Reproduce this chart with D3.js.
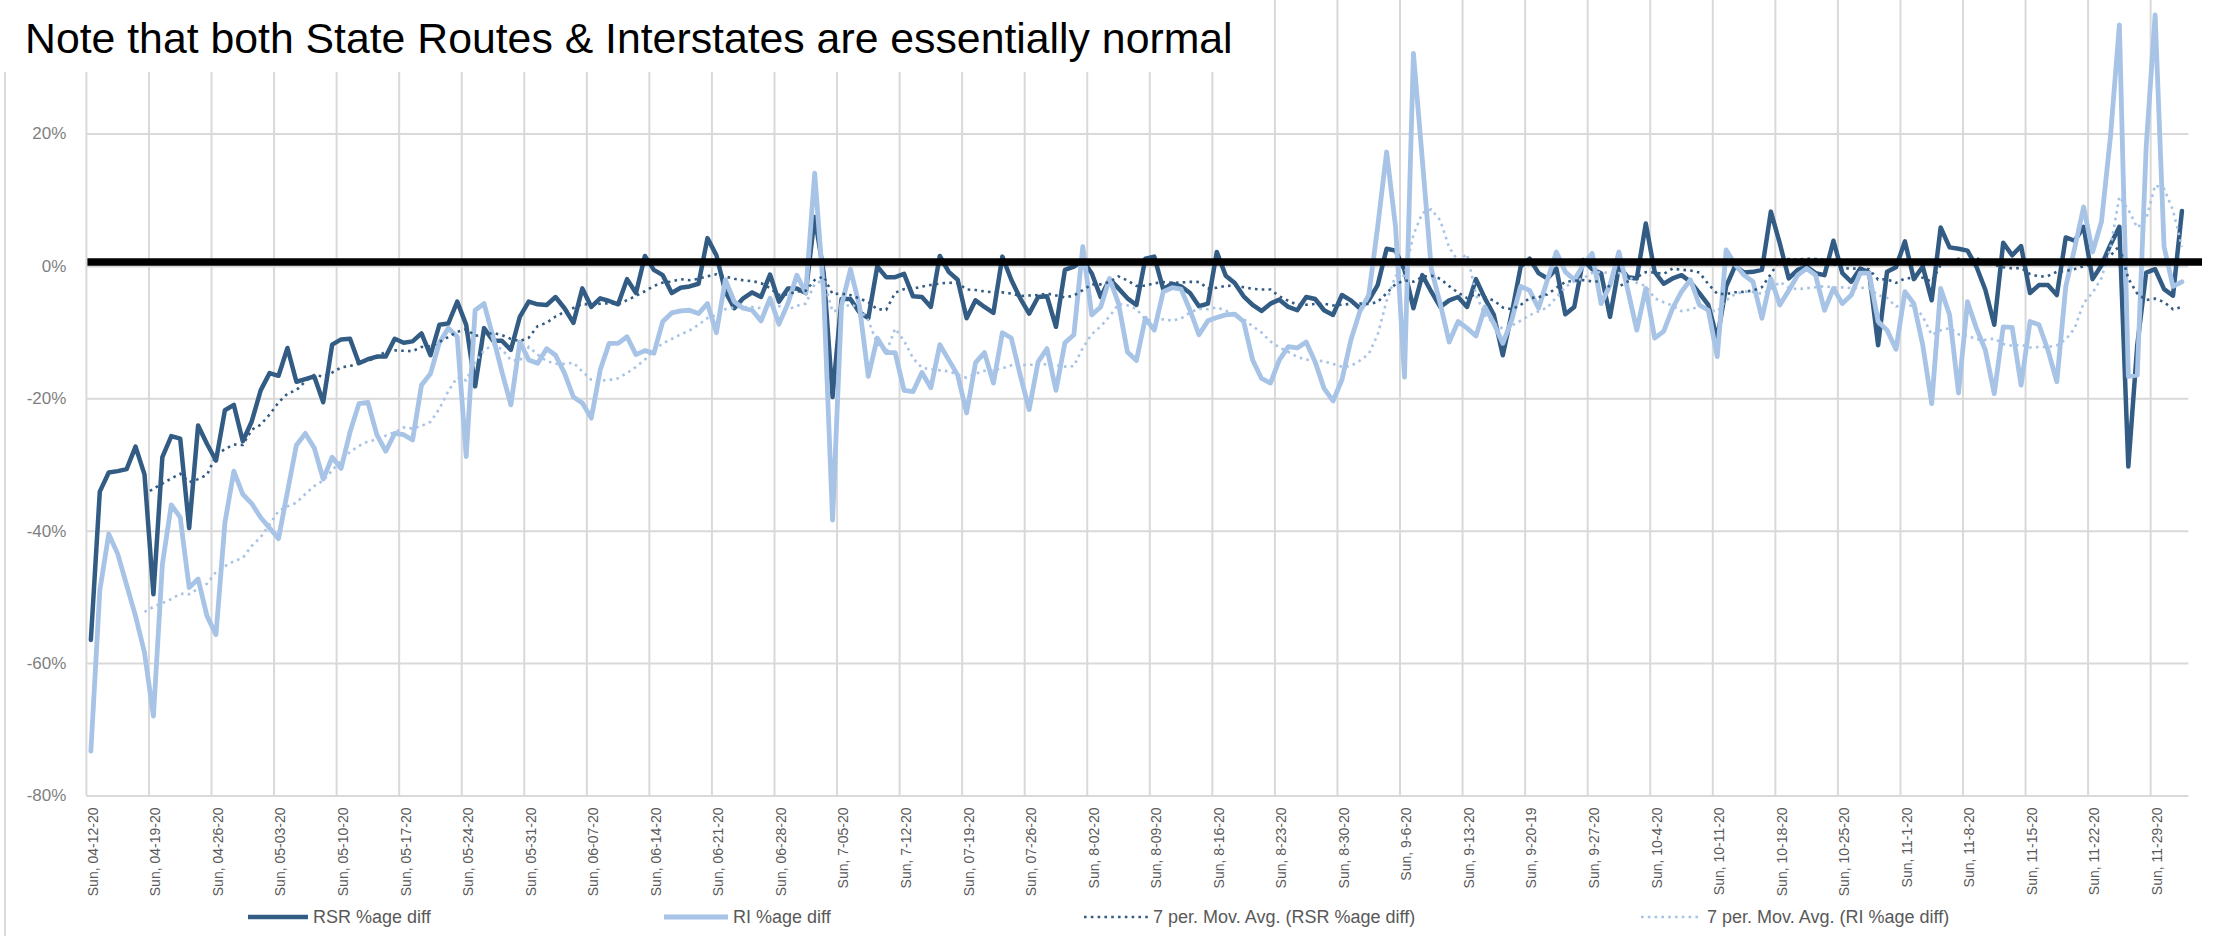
<!DOCTYPE html>
<html>
<head>
<meta charset="utf-8">
<script src="https://cdn.jsdelivr.net/npm/d3@7"></script>
<style>
  html, body { margin: 0; padding: 0; background: #ffffff; }
  svg { display: block; }
</style>
</head>
<body>
<svg id="chart" width="2216" height="936"></svg>
<script>
// ---------------- DATA ----------------
const title = "Note that both State Routes & Interstates are essentially normal";

// Weekly category labels (every 7th day, starting Sunday 04-12-20)
const weekLabels = [
  "Sun, 04-12-20","Sun, 04-19-20","Sun, 04-26-20","Sun, 05-03-20","Sun, 05-10-20",
  "Sun, 05-17-20","Sun, 05-24-20","Sun, 05-31-20","Sun, 06-07-20","Sun, 06-14-20",
  "Sun, 06-21-20","Sun, 06-28-20","Sun, 7-05-20","Sun, 7-12-20","Sun, 07-19-20",
  "Sun, 07-26-20","Sun, 8-02-20","Sun, 8-09-20","Sun, 8-16-20","Sun, 8-23-20",
  "Sun, 8-30-20","Sun, 9-6-20","Sun, 9-13-20","Sun, 9-20-19","Sun, 9-27-20",
  "Sun, 10-4-20","Sun, 10-11-20","Sun, 10-18-20","Sun, 10-25-20","Sun, 11-1-20",
  "Sun, 11-8-20","Sun, 11-15-20","Sun, 11-22-20","Sun, 11-29-20"
];

// RSR %age diff (daily, 04-12-20 .. 12-02-20)
const rsr = [
  -56.5,-34.1,-31.2,-31.0,-30.7,-27.3,-31.5,-49.6,-28.9,-25.7,-26.1,-39.6,-24.1,-26.9,
  -29.4,-21.8,-21.0,-26.5,-23.5,-18.8,-16.2,-16.6,-12.4,-17.5,-17.1,-16.7,-20.6,-11.9,
  -11.1,-11.0,-14.7,-14.1,-13.7,-13.7,-11.0,-11.6,-11.4,-10.2,-13.5,-8.9,-8.7,-5.4,
  -8.9,-18.2,-9.4,-11.3,-11.3,-12.7,-7.7,-5.4,-5.8,-5.9,-4.7,-6.4,-8.6,-3.4,
  -6.2,-4.9,-5.3,-5.8,-2.0,-4.1,1.5,-0.6,-1.4,-4.1,-3.3,-3.1,-2.7,4.2,
  1.6,-3.9,-6.4,-4.9,-4.0,-4.7,-1.3,-5.4,-3.4,-3.4,-4.1,7.4,-1.0,-19.8,
  -5.0,-5.0,-7.0,-7.9,-0.1,-1.7,-1.7,-1.2,-4.6,-4.7,-6.2,1.5,-0.9,-2.1,
  -7.9,-5.2,-6.2,-7.1,1.4,-2.1,-4.9,-7.2,-4.7,-4.6,-9.2,-0.6,-0.1,0.8,
  -1.1,-4.7,-2.0,-3.4,-4.9,-5.9,1.1,1.4,-3.5,-2.7,-3.1,-4.1,-6.1,-5.7,
  2.1,-1.5,-2.6,-4.6,-5.9,-6.8,-5.7,-5.1,-6.2,-6.7,-4.7,-5.0,-6.7,-7.4,
  -4.4,-5.2,-6.4,-5.2,-2.9,2.6,2.3,-0.6,-6.4,-1.4,-3.9,-6.2,-5.2,-4.7,
  -6.2,-2.0,-4.9,-7.4,-13.5,-7.2,-0.1,1.1,-1.1,-1.9,-0.4,-7.3,-6.2,0.9,
  -0.5,-1.1,-7.7,-0.1,-1.7,-1.9,6.4,-0.9,-2.7,-1.9,-1.4,-2.4,-4.1,-5.9,
  -11.0,-3.1,0.0,-1.0,-0.9,-0.6,8.2,3.4,-1.9,-0.6,-0.1,-1.1,-1.4,3.8,
  -1.1,-2.4,-0.4,-1.0,-12.0,-0.9,-0.2,3.7,-2.0,-0.1,-5.2,5.8,2.8,2.6,
  2.3,-0.1,-3.6,-8.9,3.5,1.6,3.0,-4.1,-2.9,-2.9,-4.4,4.3,3.8,5.9,
  -2.0,0.1,3.2,5.9,-30.3,-12.0,-1.0,-0.5,-3.5,-4.5,8.3
];

// RI %age diff (daily, same dates)
const ri = [
  -73.3,-49.0,-40.5,-43.5,-48.2,-52.9,-58.4,-68.0,-45.1,-36.1,-38.0,-48.6,-47.3,-52.9,
  -55.7,-38.8,-31.0,-34.5,-35.9,-38.0,-39.6,-41.2,-34.1,-27.1,-25.3,-27.5,-32.2,-28.9,
  -30.6,-25.1,-20.8,-20.6,-25.5,-28.0,-25.3,-25.5,-26.3,-18.0,-16.3,-11.6,-9.4,-10.7,
  -28.8,-6.7,-5.7,-10.7,-16.0,-21.0,-11.5,-14.2,-14.7,-12.5,-13.5,-16.2,-19.8,-20.7,
  -23.0,-15.7,-11.7,-11.7,-10.7,-13.4,-12.8,-13.2,-8.4,-7.1,-6.8,-6.7,-7.2,-5.7,
  -10.1,-2.1,-5.4,-6.4,-6.7,-8.3,-4.9,-8.8,-5.7,-1.4,-4.1,14.0,-4.0,-38.4,
  -6.0,-0.5,-6.0,-16.7,-10.9,-13.1,-13.1,-18.8,-19.0,-16.1,-18.4,-11.9,-14.2,-16.5,
  -22.2,-14.6,-13.1,-17.7,-10.1,-10.9,-16.5,-21.7,-14.5,-12.5,-18.8,-11.6,-10.4,2.9,
  -7.4,-6.2,-1.9,-5.7,-13.0,-14.3,-7.9,-9.7,-3.9,-3.3,-3.5,-6.7,-10.4,-8.3,
  -7.8,-7.4,-7.3,-8.4,-14.2,-17.0,-17.7,-14.2,-12.2,-12.4,-11.5,-14.5,-18.5,-20.4,
  -17.2,-11.2,-6.9,-4.4,5.9,17.2,5.9,-16.8,32.1,16.0,-0.5,-5.7,-11.5,-8.4,
  -9.4,-10.6,-6.2,-8.7,-11.7,-8.2,-3.1,-3.7,-6.4,-2.1,2.1,-0.9,-2.1,0.1,
  1.9,-5.7,-2.9,2.1,-3.7,-9.7,-3.4,-10.9,-9.9,-6.4,-3.9,-2.1,-5.9,-6.7,
  -13.7,2.4,0.2,-1.4,-2.4,-7.9,-1.9,-5.9,-3.7,-1.4,-0.4,-1.4,-6.7,-3.4,
  -5.7,-4.4,-1.1,-1.1,-8.4,-9.7,-12.6,-3.9,-5.7,-12.0,-20.8,-3.4,-7.4,-19.2,
  -5.4,-9.4,-12.7,-19.3,-9.2,-9.3,-18.0,-8.4,-8.9,-12.7,-17.5,-3.1,2.7,8.9,
  2.1,6.7,19.5,36.4,-16.7,-16.5,18.0,37.9,2.9,-3.1,-2.4
];

const seriesNames = ["RSR %age diff", "RI %age diff",
                     "7 per. Mov. Avg. (RSR %age diff)", "7 per. Mov. Avg. (RI %age diff)"];
const yTicks = [-80, -60, -40, -20, 0, 20];
const yDomain = [-80, 40];
const referenceLevel = 0.6;   // the heavy black "normal" line drawn over the chart
const maPeriod = 7;

// ---------------- LAYOUT / STYLE ----------------
const darkBlue = "#335c84";
const lightBlue = "#a7c3e6";
const gridColor = "#d9d9d9";
const plot = { left: 86.4, right: 2186.4, top: 1.1, bottom: 795.5 };
const fontFamily = "'Liberation Sans', Arial, sans-serif";

const svg = d3.select("#chart");

const x = d3.scaleBand()
  .domain(d3.range(rsr.length))
  .range([plot.left, plot.right])
  .padding(0);
const cx = i => x(i) + x.bandwidth() / 2;

const y = d3.scaleLinear().domain(yDomain).range([plot.bottom, plot.top]);

// chart-area left border
svg.append("line")
  .attr("x1", 5).attr("x2", 5).attr("y1", 0).attr("y2", 936)
  .attr("stroke", gridColor).attr("stroke-width", 2);

// horizontal gridlines + y labels
const yAxis = svg.append("g")
  .attr("transform", `translate(${plot.left},0)`)
  .call(d3.axisLeft(y).tickValues(yTicks).tickFormat(d => d + "%")
        .tickSize(-(plot.right - plot.left + 2)).tickPadding(20));
yAxis.select(".domain").remove();
yAxis.selectAll(".tick line").attr("stroke", gridColor).attr("stroke-width", 2);
yAxis.selectAll(".tick text")
  .attr("fill", "#7f7f7f")
  .style("font-family", fontFamily)
  .style("font-size", "17px");

// vertical gridlines at week boundaries
const weekStarts = d3.range(0, rsr.length, 7);
svg.append("g").selectAll("line")
  .data(weekStarts)
  .join("line")
  .attr("x1", d => x(d)).attr("x2", d => x(d))
  .attr("y1", 0).attr("y2", plot.bottom)
  .attr("stroke", gridColor).attr("stroke-width", 2);

// x axis labels (rotated)
const xAxis = svg.append("g")
  .attr("transform", `translate(0,${plot.bottom})`)
  .call(d3.axisBottom(x).tickValues(weekStarts)
        .tickFormat(d => weekLabels[d / 7]).tickSize(0));
xAxis.select(".domain").remove();
xAxis.selectAll(".tick")
  .attr("transform", d => `translate(${cx(d) + 2},0)`);
xAxis.selectAll(".tick text")
  .attr("transform", "rotate(-90)")
  .attr("text-anchor", "end")
  .attr("x", -12).attr("y", 0).attr("dy", "0.35em")
  .attr("fill", "#595959")
  .style("font-family", fontFamily)
  .style("font-size", "14px");

// title box covering the top-left of the chart
svg.append("rect")
  .attr("x", 0).attr("y", 0).attr("width", 1245).attr("height", 72)
  .attr("fill", "#ffffff");
const titleText = svg.append("text")
  .attr("x", 25).attr("y", 53)
  .attr("fill", "#000000")
  .style("font-family", "'Liberation Sans', Arial, Helvetica, sans-serif")
  .style("font-size", "41px")
  .text(title);
const tw = titleText.node().getComputedTextLength();
titleText.style("font-size", (41 * 1208 / tw).toFixed(2) + "px");

// series
const line = d3.line().x(d => cx(d.i)).y(d => y(d.v)).curve(d3.curveLinear);
const toPts = arr => arr.map((v, i) => ({ i, v }));
const movAvg = arr => arr.map((v, i) => i < maPeriod - 1 ? null
  : { i, v: d3.mean(arr.slice(i - maPeriod + 1, i + 1)) }).filter(d => d);

svg.append("path").datum(toPts(rsr))
  .attr("d", line).attr("fill", "none")
  .attr("stroke", darkBlue).attr("stroke-width", 4.5)
  .attr("stroke-linejoin", "round").attr("stroke-linecap", "round");
svg.append("path").datum(toPts(ri))
  .attr("d", line).attr("fill", "none")
  .attr("stroke", lightBlue).attr("stroke-width", 4.8)
  .attr("stroke-linejoin", "round").attr("stroke-linecap", "round");
svg.append("path").datum(movAvg(rsr))
  .attr("d", line).attr("fill", "none")
  .attr("stroke", darkBlue).attr("stroke-width", 2.6)
  .attr("stroke-dasharray", "2.6,4.2");
svg.append("path").datum(movAvg(ri))
  .attr("d", line).attr("fill", "none")
  .attr("stroke", lightBlue).attr("stroke-width", 2.6)
  .attr("stroke-dasharray", "2.6,4.2");

// heavy black "normal" line
svg.append("line")
  .attr("x1", plot.left + 1).attr("x2", 2202)
  .attr("y1", y(referenceLevel)).attr("y2", y(referenceLevel))
  .attr("stroke", "#000000").attr("stroke-width", 7.5);

// legend
const legendY = 917;
const legendItems = [
  { name: seriesNames[0], color: darkBlue, dash: null, w: 4.5, sx: 248, tx: 313 },
  { name: seriesNames[1], color: lightBlue, dash: null, w: 4.8, sx: 664, tx: 733 },
  { name: seriesNames[2], color: darkBlue, dash: "2.6,4.2", w: 2.6, sx: 1084, tx: 1153 },
  { name: seriesNames[3], color: lightBlue, dash: "2.6,4.2", w: 2.6, sx: 1641, tx: 1707 }
];
const lg = svg.append("g").selectAll("g").data(legendItems).join("g");
lg.append("line")
  .attr("x1", d => d.sx).attr("x2", d => d.tx - 5)
  .attr("y1", legendY).attr("y2", legendY)
  .attr("stroke", d => d.color).attr("stroke-width", d => d.w)
  .attr("stroke-dasharray", d => d.dash);
lg.append("text")
  .attr("x", d => d.tx).attr("y", legendY).attr("dy", "0.35em")
  .attr("fill", "#595959")
  .style("font-family", fontFamily)
  .style("font-size", "18px")
  .text(d => d.name);
</script>
</body>
</html>
